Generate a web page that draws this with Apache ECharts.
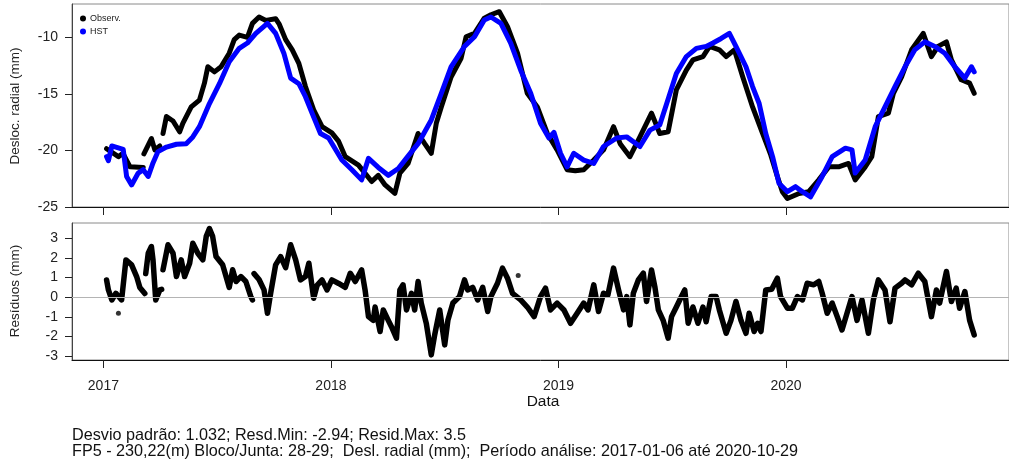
<!DOCTYPE html>
<html>
<head>
<meta charset="utf-8">
<script src="https://cdn.jsdelivr.net/npm/echarts@6/dist/echarts.min.js"></script>
<style>
  html, body { margin: 0; padding: 0; background: #fff; }
  #chart { width: 1009px; height: 463px; }
</style>
</head>
<body>
<div id="chart"></div>
<script>
// Time is expressed as decimal years (2017.5 = mid 2017)
const yearTicks = [2017, 2018, 2019, 2020];
const displTicks = [-25, -20, -15, -10];
const residTicks = [-3, -2, -1, 0, 1, 2, 3];

// Observed radial displacement (mm)
const observ = [
  [2017.014,-19.85],[2017.066,-20.55],[2017.086,-20.25],[2017.117,-21.45],[2017.175,-21.5],null,
  [2017.178,-20.3],[2017.211,-18.95],[2017.226,-19.95],[2017.248,-19.6],null,
  [2017.262,-18.5],[2017.277,-17.0],[2017.306,-17.4],[2017.335,-18.35],[2017.349,-17.6],
  [2017.386,-16.15],[2017.422,-15.55],[2017.444,-14.05],[2017.459,-12.6],[2017.488,-13.05],
  [2017.517,-12.6],[2017.553,-11.4],[2017.575,-10.2],[2017.597,-9.8],[2017.633,-10.0],
  [2017.655,-8.76],[2017.684,-8.2],[2017.714,-8.5],[2017.757,-8.35],[2017.772,-8.8],
  [2017.801,-10.2],[2017.830,-11.1],[2017.859,-12.3],[2017.888,-14.35],[2017.924,-16.4],
  [2017.961,-17.9],[2018.004,-18.45],[2018.034,-19.2],[2018.063,-20.55],[2018.121,-21.3],
  [2018.179,-22.75],[2018.208,-22.2],[2018.238,-23.05],[2018.281,-23.8],[2018.303,-22.0],
  [2018.339,-21.15],[2018.383,-18.5],[2018.412,-19.4],[2018.441,-20.25],[2018.463,-17.6],
  [2018.485,-16.15],[2018.528,-13.5],[2018.572,-11.85],[2018.594,-9.95],[2018.631,-9.65],
  [2018.674,-8.3],[2018.703,-8.0],[2018.740,-7.73],[2018.776,-9.06],[2018.820,-11.4],
  [2018.863,-14.95],[2018.907,-16.15],[2018.951,-18.5],[2018.994,-19.95],[2019.038,-21.7],
  [2019.074,-21.8],[2019.111,-21.7],[2019.155,-20.85],[2019.198,-19.95],[2019.242,-17.9],
  [2019.271,-19.4],[2019.314,-20.55],[2019.358,-18.8],[2019.409,-16.7],[2019.445,-18.5],
  [2019.482,-18.35],[2019.518,-14.65],[2019.562,-12.9],[2019.591,-12.0],[2019.635,-11.7],
  [2019.664,-10.8],[2019.707,-11.1],[2019.737,-11.7],[2019.773,-11.1],[2019.810,-13.5],
  [2019.853,-16.15],[2019.897,-18.5],[2019.933,-20.4],[2019.962,-22.3],[2019.984,-23.65],
  [2020.006,-24.25],[2020.057,-23.8],[2020.100,-23.65],[2020.144,-22.6],[2020.188,-21.45],
  [2020.231,-21.45],[2020.275,-21.15],[2020.304,-22.6],[2020.348,-21.45],[2020.377,-20.55],
  [2020.406,-17.0],[2020.450,-16.7],[2020.472,-14.95],[2020.508,-13.5],[2020.552,-11.1],
  [2020.603,-9.65],[2020.639,-11.7],[2020.668,-10.8],[2020.705,-10.4],[2020.727,-12.0],
  [2020.770,-13.75],[2020.807,-14.05],[2020.827,-14.95]
];

// HST model estimate (mm)
const hst = [
  [2017.014,-20.55],[2017.022,-20.9],[2017.037,-19.6],[2017.087,-19.9],[2017.102,-22.3],
  [2017.124,-23.05],[2017.153,-22.0],[2017.175,-21.7],[2017.197,-22.3],[2017.218,-21.1],
  [2017.240,-20.1],[2017.277,-19.7],[2017.321,-19.45],[2017.364,-19.4],[2017.393,-18.8],
  [2017.422,-17.9],[2017.466,-15.85],[2017.510,-14.1],[2017.553,-12.15],[2017.597,-10.97],
  [2017.633,-10.5],[2017.670,-9.65],[2017.721,-8.76],[2017.757,-9.65],[2017.793,-11.4],
  [2017.823,-13.6],[2017.859,-14.1],[2017.888,-15.25],[2017.917,-16.7],[2017.954,-18.5],
  [2017.990,-18.9],[2018.048,-20.85],[2018.092,-21.7],[2018.135,-22.6],[2018.165,-20.7],
  [2018.208,-21.5],[2018.252,-22.2],[2018.296,-21.6],[2018.339,-20.5],[2018.383,-19.4],
  [2018.441,-17.3],[2018.485,-14.95],[2018.528,-12.6],[2018.587,-10.8],[2018.631,-9.95],
  [2018.674,-8.47],[2018.703,-8.2],[2018.747,-8.76],[2018.790,-10.5],[2018.834,-12.9],
  [2018.878,-14.95],[2018.921,-17.6],[2018.958,-18.9],[2018.980,-18.4],[2019.009,-20.25],
  [2019.038,-21.45],[2019.067,-20.25],[2019.111,-20.85],[2019.155,-21.15],[2019.198,-19.65],
  [2019.256,-18.9],[2019.300,-18.8],[2019.358,-19.65],[2019.402,-18.2],[2019.445,-17.75],
  [2019.475,-15.9],[2019.518,-13.2],[2019.562,-11.7],[2019.606,-10.97],[2019.649,-10.8],
  [2019.679,-10.5],[2019.715,-10.1],[2019.751,-9.65],[2019.780,-10.8],[2019.824,-12.6],
  [2019.853,-14.35],[2019.882,-15.85],[2019.911,-18.5],[2019.941,-20.55],[2019.969,-22.9],
  [2020.006,-23.65],[2020.042,-23.2],[2020.072,-23.65],[2020.108,-24.1],[2020.159,-22.3],
  [2020.203,-20.55],[2020.261,-19.8],[2020.290,-19.95],[2020.304,-22.0],[2020.348,-20.85],
  [2020.392,-17.9],[2020.435,-16.15],[2020.479,-14.35],[2020.523,-12.6],[2020.566,-11.1],
  [2020.610,-10.4],[2020.654,-10.8],[2020.698,-11.4],[2020.742,-12.6],[2020.786,-13.6],
  [2020.815,-12.6],[2020.827,-13.05]
];

// Residuals: observed minus HST (mm)
const resid = [
  [2017.014,0.88],[2017.022,0.37],[2017.037,-0.14],[2017.055,0.2],[2017.080,-0.14],
  [2017.099,1.9],[2017.124,1.65],[2017.146,1.05],[2017.160,0.5],[2017.182,0.19],null,
  [2017.186,1.2],[2017.197,2.24],[2017.211,2.58],[2017.218,1.9],[2017.230,-0.14],
  [2017.248,0.37],[2017.256,0.4],null,
  [2017.262,1.4],[2017.284,2.67],[2017.306,2.24],[2017.321,1.05],[2017.342,1.9],
  [2017.357,1.05],[2017.379,1.73],[2017.393,2.75],[2017.415,2.24],[2017.437,1.9],
  [2017.452,3.1],[2017.466,3.5],[2017.480,3.1],[2017.495,2.07],[2017.524,1.65],
  [2017.553,0.5],[2017.568,1.4],[2017.583,0.8],[2017.604,1.05],[2017.626,0.8],
  [2017.648,0.03],[2017.655,-0.14],null,
  [2017.662,1.2],[2017.684,0.9],[2017.706,0.37],[2017.721,-0.82],[2017.735,0.2],
  [2017.757,1.65],[2017.779,2.07],[2017.801,1.5],[2017.823,2.67],[2017.845,1.9],
  [2017.866,0.88],[2017.888,1.05],[2017.903,1.73],[2017.924,-0.05],[2017.939,0.6],
  [2017.961,0.88],[2017.983,0.37],[2018.004,0.88],[2018.034,0.7],[2018.063,0.5],
  [2018.085,1.22],[2018.107,0.8],[2018.135,1.39],[2018.150,0.37],[2018.165,-0.99],
  [2018.186,-1.18],[2018.194,-0.5],[2018.216,-1.75],[2018.230,-0.65],[2018.252,-1.18],
  [2018.266,-1.5],[2018.288,-2.09],[2018.303,0.37],[2018.317,0.63],[2018.332,-0.65],
  [2018.354,0.2],[2018.368,-0.65],[2018.383,0.8],[2018.397,-0.3],[2018.419,-1.33],
  [2018.441,-2.94],[2018.456,-1.92],[2018.478,-0.65],[2018.500,-2.43],[2018.514,-1.18],
  [2018.536,-0.3],[2018.565,0.03],[2018.587,0.88],[2018.601,0.37],[2018.623,0.5],
  [2018.645,-0.14],[2018.667,0.5],[2018.689,-0.73],[2018.703,0.03],[2018.732,0.71],
  [2018.754,1.48],[2018.776,0.97],[2018.798,0.2],[2018.834,-0.14],[2018.863,-0.5],
  [2018.893,-0.99],[2018.921,0.03],[2018.943,0.46],[2018.965,-0.65],[2018.994,-0.3],
  [2019.024,-0.65],[2019.053,-1.33],[2019.082,-0.82],[2019.111,-0.3],[2019.130,-0.65],
  [2019.155,0.63],[2019.176,-0.73],[2019.198,0.2],[2019.217,0.1],[2019.242,1.48],
  [2019.264,0.37],[2019.286,-0.65],[2019.300,0.03],[2019.314,-1.41],[2019.329,0.2],
  [2019.351,0.88],[2019.373,1.22],[2019.387,-0.22],[2019.409,1.39],[2019.424,0.5],
  [2019.439,-0.65],[2019.460,-1.18],[2019.482,-2.09],[2019.497,-0.99],[2019.518,-0.5],
  [2019.533,-0.14],[2019.555,0.37],[2019.570,-1.33],[2019.591,-0.5],[2019.613,-1.33],
  [2019.635,-0.5],[2019.649,-1.25],[2019.671,0.03],[2019.693,0.03],[2019.707,-0.65],
  [2019.737,-1.84],[2019.758,-1.18],[2019.780,-0.22],[2019.802,-1.18],[2019.824,-1.84],
  [2019.838,-0.82],[2019.860,-1.75],[2019.875,-1.33],[2019.890,-1.75],[2019.911,0.37],
  [2019.937,0.4],[2019.962,0.97],[2019.976,0.03],[2020.006,-0.56],[2020.028,-0.56],
  [2020.050,0.03],[2020.072,-0.14],[2020.093,0.71],[2020.122,0.63],[2020.144,0.8],
  [2020.159,0.2],[2020.181,-0.82],[2020.203,-0.3],[2020.225,-0.99],[2020.246,-1.67],
  [2020.268,-0.82],[2020.290,0.03],[2020.312,-1.18],[2020.334,-0.14],[2020.362,-1.84],
  [2020.384,-0.14],[2020.406,0.88],[2020.435,0.37],[2020.457,-1.25],[2020.479,0.46],
  [2020.508,0.71],[2020.523,0.88],[2020.552,0.63],[2020.581,1.22],[2020.610,0.8],
  [2020.639,-0.99],[2020.661,0.37],[2020.675,-0.3],[2020.705,1.31],[2020.727,-0.22],
  [2020.748,0.46],[2020.763,-0.56],[2020.786,0.29],[2020.807,-1.18],[2020.827,-1.92]
];

// Single residual readings away from the main trace
const residIsolated = [[2017.066,-0.82],[2018.823,1.1]];

const statsText = 'Desvio padrão: 1.032; Resd.Min: -2.94; Resid.Max: 3.5';
const infoText = 'FP5 - 230,22(m) Bloco/Junta: 28-29;  Desl. radial (mm);  Período análise: 2017-01-06 até 2020-10-29';

const FONT = '"Liberation Sans", Arial, sans-serif';
const X_MIN = 2016.862, X_MAX = 2020.98;
const PLOT_LEFT = 72, PLOT_WIDTH = 943;

function xAxisFor(gridIndex, showLabels) {
  return {
    type: 'value', gridIndex: gridIndex, min: X_MIN, max: X_MAX,
    axisLine: { show: true, onZero: false, lineStyle: { color: '#111', width: 1 } },
    axisTick: { show: true, inside: false, length: 8, customValues: yearTicks,
                lineStyle: { color: '#222', width: 1 } },
    axisLabel: { show: showLabels, customValues: yearTicks, margin: 19,
                 fontFamily: FONT, fontSize: 14, color: '#222',
                 formatter: v => String(Math.round(v)) },
    splitLine: { show: false }
  };
}

function yAxisFor(gridIndex, min, max, ticks) {
  return {
    type: 'value', gridIndex: gridIndex, min: min, max: max,
    axisLine: { show: true, onZero: false, lineStyle: { color: '#444', width: 1 } },
    axisTick: { show: true, inside: false, length: 7, customValues: ticks,
                lineStyle: { color: '#222', width: 1 } },
    axisLabel: { show: true, customValues: ticks, margin: 14,
                 fontFamily: FONT, fontSize: 14, color: '#222' },
    splitLine: { show: false }
  };
}

const lineBase = {
  type: 'line', showSymbol: false, symbol: 'none', smooth: false,
  connectNulls: false, animation: false, silent: true
};

const chart = echarts.init(document.getElementById('chart'), null, { renderer: 'canvas' });
chart.setOption({
  backgroundColor: '#fff',
  animation: false,
  grid: [
    { left: PLOT_LEFT, top: 4, width: PLOT_WIDTH, height: 203,
      show: true, borderColor: '#8a8a8a', borderWidth: 1, backgroundColor: 'transparent' },
    { left: PLOT_LEFT, top: 223, width: PLOT_WIDTH, height: 137,
      show: true, borderColor: '#8a8a8a', borderWidth: 1, backgroundColor: 'transparent' }
  ],
  xAxis: [xAxisFor(0, false), xAxisFor(1, true)],
  yAxis: [yAxisFor(0, -25, -7.05, displTicks), yAxisFor(1, -3.2, 3.78, residTicks)],
  legend: {
    data: ['Observ.', 'HST'], orient: 'vertical', left: 75, top: 9,
    icon: 'circle', itemWidth: 6, itemHeight: 6, itemGap: 4,
    textStyle: { fontFamily: FONT, fontSize: 9, color: '#222', padding: [0, 0, 0, -1] },
    selectedMode: false
  },
  series: [
    Object.assign({}, lineBase, {
      name: 'Observ.', xAxisIndex: 0, yAxisIndex: 0, data: observ, z: 2,
      itemStyle: { color: '#000' },
      lineStyle: { color: '#000', width: 5, cap: 'round', join: 'round' }
    }),
    Object.assign({}, lineBase, {
      name: 'HST', xAxisIndex: 0, yAxisIndex: 0, data: hst, z: 3,
      itemStyle: { color: '#0000ff' },
      lineStyle: { color: '#0000ff', width: 5, cap: 'round', join: 'round' }
    }),
    Object.assign({}, lineBase, {
      name: 'zero', xAxisIndex: 1, yAxisIndex: 1, data: [], z: 1,
      markLine: {
        silent: true, symbol: 'none', animation: false,
        label: { show: false },
        lineStyle: { color: '#b4b4b4', width: 1, type: 'solid' },
        data: [{ yAxis: 0 }]
      }
    }),
    Object.assign({}, lineBase, {
      name: 'Resíduos', xAxisIndex: 1, yAxisIndex: 1, data: resid, z: 4,
      itemStyle: { color: '#000' },
      lineStyle: { color: '#000', width: 5.5, cap: 'round', join: 'round' }
    }),
    {
      name: 'Resíduos isolados', type: 'scatter', xAxisIndex: 1, yAxisIndex: 1,
      data: residIsolated, symbolSize: 5, itemStyle: { color: '#000' },
      silent: true, animation: false, z: 4
    }
  ],
  graphic: [
    { type: 'text', x: 15, y: 106, rotation: Math.PI / 2,
      style: { text: 'Desloc. radial (mm)', font: '13.5px ' + FONT, fill: '#222',
               textAlign: 'center', textVerticalAlign: 'middle' } },
    { type: 'text', x: 15, y: 291, rotation: Math.PI / 2,
      style: { text: 'Resíduos (mm)', font: '13.5px ' + FONT, fill: '#222',
               textAlign: 'center', textVerticalAlign: 'middle' } },
    { type: 'text', x: 543, y: 402,
      style: { text: 'Data', font: '15.5px ' + FONT, fill: '#111',
               textAlign: 'center', textVerticalAlign: 'middle' } },
    { type: 'text', x: 72, y: 436,
      style: { text: statsText, font: '16.2px ' + FONT, fill: '#111',
               textAlign: 'left', textVerticalAlign: 'middle' } },
    { type: 'text', x: 72, y: 452,
      style: { text: infoText, font: '16.2px ' + FONT, fill: '#111',
               textAlign: 'left', textVerticalAlign: 'middle' } }
  ]
});
</script>
</body>
</html>
